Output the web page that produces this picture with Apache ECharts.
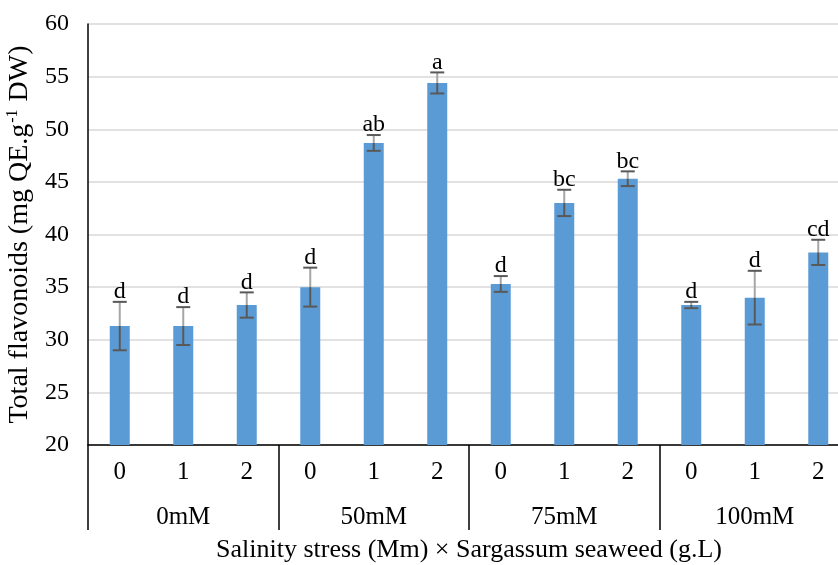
<!DOCTYPE html>
<html>
<head>
<meta charset="utf-8">
<script src="https://cdn.jsdelivr.net/npm/echarts@6/dist/echarts.min.js"></script>
<style>html,body{margin:0;padding:0;background:#fff}#c{width:838px;height:565px}</style>
</head>
<body>
<div id="c"></div>
<script>
var categories = ['0','1','2','0','1','2','0','1','2','0','1','2'];
var groups = ['0mM','50mM','75mM','100mM'];
var means = [31.3, 31.3, 33.3, 35.0, 48.7, 54.4, 35.3, 43.0, 45.3, 33.3, 34.0, 38.3];
var errors = [2.3, 1.8, 1.2, 1.85, 0.75, 1.0, 0.75, 1.25, 0.7, 0.3, 2.55, 1.2];
var letters = ['d','d','d','d','ab','a','d','bc','bc','d','d','cd'];
var yTicks = [20, 25, 30, 35, 40, 45, 50, 55, 60];

var FONT = '"Liberation Serif","Times New Roman",serif';
var FS = 25;
var errData = means.map(function(m, i){ return [i, m, errors[i]]; });

var chart = echarts.init(document.getElementById('c'));
chart.setOption({
  animation: false,
  grid: {left: 88, right: -12, top: 24, bottom: 120, containLabel: false, outerBoundsMode: 'none'},
  xAxis: [{
    type: 'category', data: categories, position: 'bottom',
    axisLine: {show: true, lineStyle: {color: '#000', width: 1.5}},
    axisTick: {show: false},
    axisLabel: {fontFamily: FONT, fontSize: FS, color: '#000', margin: 15, interval: 0},
    splitLine: {show: false}
  }, {
    type: 'category', data: groups, position: 'bottom',
    axisLine: {show: false},
    axisTick: {show: true, length: 85, lineStyle: {color: '#000', width: 1.5}},
    axisLabel: {fontFamily: FONT, fontSize: FS, color: '#000', margin: 60, interval: 0},
    splitLine: {show: false},
    name: 'Salinity stress (Mm) \u00d7 Sargassum seaweed (g.L)',
    nameLocation: 'middle', nameGap: 92,
    nameTextStyle: {fontFamily: FONT, fontSize: 26, color: '#000'}
  }],
  yAxis: {
    type: 'value', min: yTicks[0], max: yTicks[yTicks.length-1], interval: 5,
    axisLine: {show: true, lineStyle: {color: '#000', width: 1.5}},
    axisTick: {show: false},
    axisLabel: {fontFamily: FONT, fontSize: 24, color: '#000', margin: 19},
    splitLine: {show: true, lineStyle: {color: '#d9d9d9', width: 1.5}},
    name: '{a|Total flavonoids (mg QE.g}{s|-1}{a| DW)}',
    nameLocation: 'middle', nameRotate: 90, nameGap: 50,
    nameTextStyle: {
      rich: {
        a: {fontFamily: FONT, fontSize: 28, color: '#000', lineHeight: 30},
        s: {fontFamily: FONT, fontSize: 16, color: '#000', verticalAlign: 'top', lineHeight: 30, padding: [0, 1, 12, 1]}
      }
    }
  },
  series: [{
    type: 'bar', data: means, xAxisIndex: 0, barWidth: 20,
    itemStyle: {color: '#5B9BD5'}, z: 2
  }, {
    type: 'custom', xAxisIndex: 0, data: errData, z: 5,
    renderItem: function(params, api){
      var i = api.value(0), m = api.value(1), e = api.value(2);
      var pMid = api.coord([i, m]);
      var pTop = api.coord([i, m + e]);
      var pBot = api.coord([i, m - e]);
      var x = pMid[0], hw = 7;
      return {type: 'group', children: [
        {type: 'line', shape: {x1: x, y1: pTop[1], x2: x, y2: pMid[1]}, style: {stroke: '#a6a6a6', lineWidth: 2}},
        {type: 'line', shape: {x1: x, y1: pMid[1], x2: x, y2: pBot[1]}, style: {stroke: '#595959', lineWidth: 2}},
        {type: 'line', shape: {x1: x - hw, y1: pTop[1], x2: x + hw, y2: pTop[1]}, style: {stroke: '#595959', lineWidth: 2}},
        {type: 'line', shape: {x1: x - hw, y1: pBot[1], x2: x + hw, y2: pBot[1]}, style: {stroke: '#595959', lineWidth: 2}},
        {type: 'text', style: {x: x, y: pTop[1] + 2, text: letters[i], textAlign: 'center', textVerticalAlign: 'bottom', font: '24px ' + FONT, fill: '#000'}}
      ]};
    }
  }]
});
</script>
</body>
</html>
